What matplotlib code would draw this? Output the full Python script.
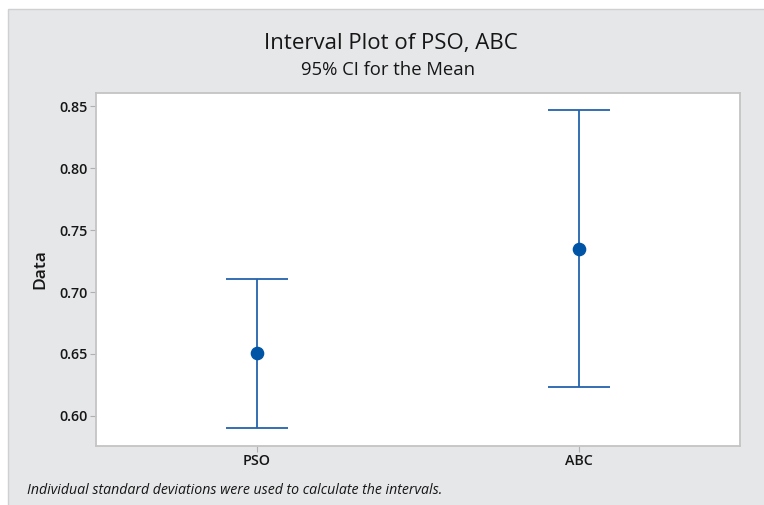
import matplotlib
matplotlib.use("Agg")
import matplotlib.pyplot as plt
from matplotlib.patches import Rectangle

# interval plot values
groups = ["PSO", "ABC"]
means = [0.651, 0.7345]
ci_low = [0.5905, 0.6235]
ci_high = [0.7105, 0.8465]
y_ticks = [0.60, 0.65, 0.70, 0.75, 0.80, 0.85]

line_col = "#2463ad"
dot_col = "#0054a6"
panel_col = "#e6e7e9"
text_col = "#161616"

plt.rcParams["font.family"] = ["Open Sans", "DejaVu Sans"]

W, H = 764, 505
fig = plt.figure(figsize=(W / 100, H / 100), dpi=100)
fig.patch.set_facecolor("white")

# outer grey panel (runs off the right/bottom edge like the screenshot)
fig.patches.append(Rectangle((8 / W, -0.1), 1.2, (H - 9) / H + 0.1,
                             transform=fig.transFigure, facecolor=panel_col,
                             edgecolor="#cfd0d2", linewidth=1.0, zorder=-10))

ax = fig.add_axes([96 / W, (H - 446) / H, (740 - 96) / W, (446 - 93) / H])
ax.set_facecolor("white")

x = list(range(len(groups)))
yerr = [[m - lo for m, lo in zip(means, ci_low)],
        [hi - m for m, hi in zip(means, ci_high)]]
ax.errorbar(x, means, yerr=yerr, fmt="none", ecolor=line_col,
            elinewidth=1.3, capsize=22, capthick=1.3, zorder=2)
ax.plot(x, means, "o", color=dot_col, markersize=8.8, zorder=3)

ax.set_xlim(-0.5, 1.5)
ax.set_ylim(0.5758, 0.8605)
ax.set_xticks(x)
ax.set_xticklabels(groups)
ax.set_yticks(y_ticks)
ax.set_yticklabels([f"{v:.2f}" for v in y_ticks])
ax.tick_params(axis="both", length=4, width=0.8, color="#b0b0b0",
               labelsize=10.3, labelcolor=text_col, pad=2)
for lbl in ax.get_xticklabels() + ax.get_yticklabels():
    lbl.set_fontweight("semibold")
for sp in ax.spines.values():
    sp.set_color("#c4c4c4")
    sp.set_linewidth(1.3)

ax.set_ylabel("Data", fontsize=12.5, color=text_col, labelpad=8,
              fontweight="semibold")

fig.text(0.512, (H - 49.5) / H, "Interval Plot of PSO, ABC", ha="center",
         va="baseline", fontsize=16, color=text_col, fontweight="medium")
fig.text(0.508, (H - 75) / H, "95% CI for the Mean", ha="center",
         va="baseline", fontsize=13.3, color=text_col, fontweight="medium")
fig.text(27 / W, (H - 494) / H,
         "Individual standard deviations were used to calculate the intervals.",
         ha="left", va="baseline", fontsize=10.2, style="italic",
         color=text_col)

fig.savefig("out.png", dpi=100, facecolor=fig.get_facecolor())
